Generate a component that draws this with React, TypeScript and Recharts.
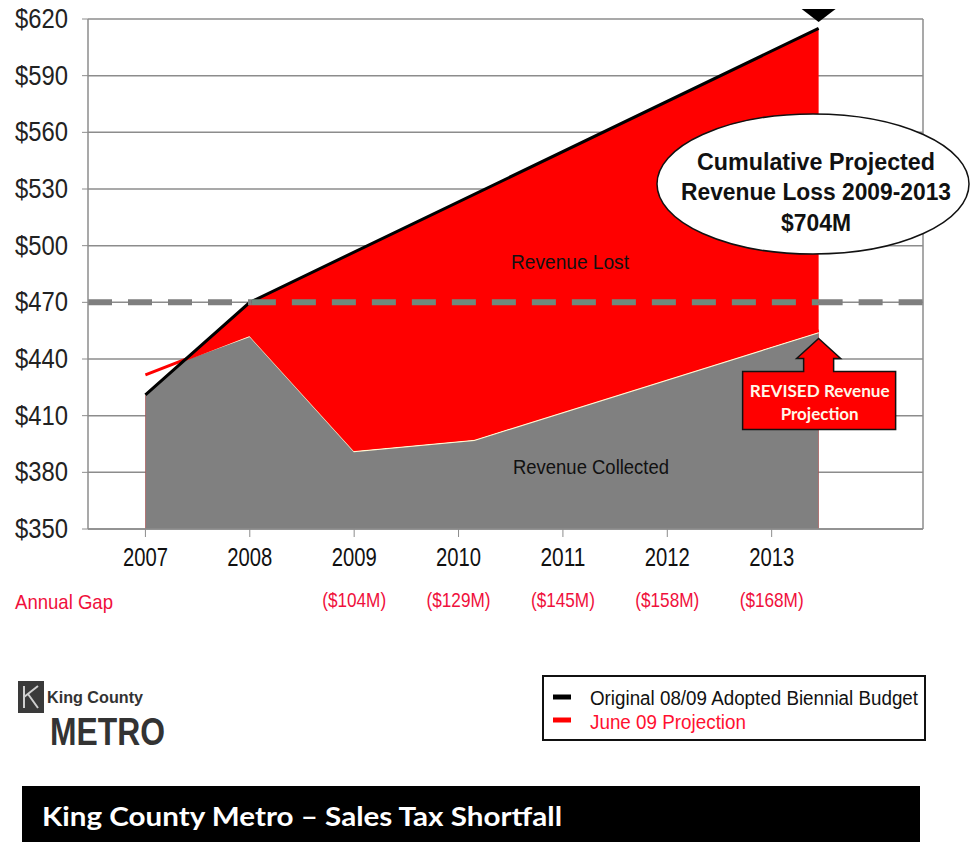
import {
  Area,
  CartesianGrid,
  ComposedChart,
  Line,
  ReferenceDot,
  ReferenceLine,
  XAxis,
  YAxis,
} from "recharts";

// categories / ticks
const years = [2007, 2008, 2009, 2010, 2011, 2012, 2013];
const annualGap = ["", "", "($104M)", "($129M)", "($145M)", "($158M)", "($168M)"];
const yTicks = [350, 380, 410, 440, 470, 500, 530, 560, 590, 620];

// series ($M)
const pointX = [2007, 2007.35, 2008, 2009, 2010.15, 2013.45];
const budget = [421, null, 470, null, null, 615];
const projection = [430.5, null, 452, 391, 397, 454];
const collected = [421, 439, 452, 391, 397, 454];

const rows = pointX.map((x, i) => ({
  x,
  budget: budget[i],
  projection: projection[i],
  collected: collected[i],
}));

const NARROW = "'Liberation Sans Narrow', 'Arial Narrow', 'Liberation Sans', Arial, sans-serif";
const GRID = "#8c8c8c";

const YearTick = (props: any) => {
  const { x, y, payload } = props;
  const i = years.indexOf(payload.value);
  return (
    <g>
      <text x={x} y={y + 25} textAnchor="middle" fontFamily={NARROW} fontSize={26} fill="#111" textLength={45} lengthAdjust="spacingAndGlyphs">
        {payload.value}
      </text>
      {annualGap[i] ? (
        <text x={x} y={y + 66} textAnchor="middle" fontFamily={NARROW} fontSize={21} fill="#f0103c" textLength={64} lengthAdjust="spacingAndGlyphs">
          {annualGap[i]}
        </text>
      ) : null}
    </g>
  );
};

const DollarTick = (props: any) => {
  const { x, y, payload } = props;
  return (
    <text x={x} y={y + 9} textAnchor="end" fontFamily={NARROW} fontSize={27} fill="#222" textLength={53} lengthAdjust="spacingAndGlyphs">
      {`$${payload.value}`}
    </text>
  );
};

const TopMarker = (props: any) => {
  const { cx, cy } = props;
  return <path d={`M${cx - 17},${cy - 10} L${cx + 17},${cy - 10} L${cx},${cy + 3} Z`} fill="#000" />;
};

const RevisedCallout = (props: any) => {
  const { cx, cy } = props;
  const d = [
    `M${cx - 76},${cy + 39}`,
    `L${cx - 15},${cy + 39}`,
    `L${cx - 15},${cy + 26}`,
    `L${cx - 22},${cy + 26}`,
    `L${cx},${cy + 6}`,
    `L${cx + 22},${cy + 26}`,
    `L${cx + 15},${cy + 26}`,
    `L${cx + 15},${cy + 39}`,
    `L${cx + 77},${cy + 39}`,
    `L${cx + 77},${cy + 97}`,
    `L${cx - 76},${cy + 97}`,
    "Z",
  ].join(" ");
  return (
    <g>
      <path d={d} fill="#ff0000" stroke="#111" strokeWidth={1.5} />
      <text x={cx + 1} y={cy + 64} textAnchor="middle" fontFamily="Lato, 'Open Sans', sans-serif" fontWeight="bold" fontSize={17} fill="#fff8e8" textLength={140} lengthAdjust="spacingAndGlyphs">
        REVISED Revenue
      </text>
      <text x={cx + 1} y={cy + 87} textAnchor="middle" fontFamily="Lato, 'Open Sans', sans-serif" fontWeight="bold" fontSize={17} fill="#fff8e8" textLength={78} lengthAdjust="spacingAndGlyphs">
        Projection
      </text>
    </g>
  );
};

export default function App() {
  return (
    <div style={{ position: "absolute", left: 0, top: 0, width: 970, height: 842, background: "#fff" }}>
      <style>{`.proj-line { transform: translateY(-2px); }`}</style>
      <ComposedChart
        width={970}
        height={842}
        data={rows}
        margin={{ top: 19, right: 47, left: 0, bottom: 283 }}
      >
        <CartesianGrid vertical={false} stroke={GRID} strokeWidth={1.5} />
        <XAxis
          dataKey="x"
          type="number"
          domain={[2006.45, 2014.45]}
          ticks={years}
          tick={<YearTick />}
          height={30}
          tickSize={8}
          tickMargin={4}
          stroke={GRID}
          axisLine={{ stroke: GRID, strokeWidth: 1.5 }}
          tickLine={{ stroke: GRID }}
        />
        <YAxis
          type="number"
          domain={[350, 620]}
          ticks={yTicks}
          width={88}
          tickSize={6}
          tickMargin={14}
          tick={<DollarTick />}
          axisLine={{ stroke: GRID, strokeWidth: 1.5 }}
          tickLine={{ stroke: GRID }}
        />
        <ReferenceLine x={2014.45} stroke={GRID} strokeWidth={1.5} />
        <Area
          dataKey="budget"
          type="linear"
          connectNulls
          fill="#ff0000"
          fillOpacity={1}
          stroke="none"
          isAnimationActive={false}
        />
        <Area
          dataKey="collected"
          type="linear"
          fill="#808080"
          fillOpacity={1}
          stroke="#fff6d2"
          strokeWidth={1.5}
          isAnimationActive={false}
        />
        <Line
          className="proj-line"
          dataKey="projection"
          type="linear"
          connectNulls
          stroke="#ff0000"
          strokeWidth={3}
          dot={false}
          isAnimationActive={false}
        />
        <Line
          dataKey="budget"
          type="linear"
          connectNulls
          stroke="#000"
          strokeWidth={3}
          dot={false}
          isAnimationActive={false}
        />
        <ReferenceLine
          segment={[{ x: 2006.45, y: 470 }, { x: 2008.02, y: 470 }]}
          stroke="#7f7f7f"
          strokeWidth={6}
          strokeDasharray="24 16"
        />
        <ReferenceLine
          segment={[{ x: 2008.02, y: 470 }, { x: 2013.45, y: 470 }]}
          stroke="#6f8a7e"
          strokeWidth={6}
          strokeDasharray="24 16"
        />
        <ReferenceLine
          segment={[{ x: 2013.45, y: 470 }, { x: 2014.45, y: 470 }]}
          stroke="#7f7f7f"
          strokeWidth={6}
          strokeDasharray="24 16"
        />
        <ReferenceDot x={2013.45} y={620} r={1} ifOverflow="visible" shape={<TopMarker />} />
        <ReferenceDot x={2013.45} y={454} r={1} ifOverflow="visible" shape={<RevisedCallout />} />
      </ComposedChart>

      <svg width={970} height={842} style={{ position: "absolute", left: 0, top: 0, pointerEvents: "none" }}>
        <text x={570} y={269} textAnchor="middle" fontFamily={NARROW} fontSize={20} fill="#111" textLength={118} lengthAdjust="spacingAndGlyphs">
          Revenue Lost
        </text>
        <text x={591} y={474} textAnchor="middle" fontFamily={NARROW} fontSize={20} fill="#111" textLength={156} lengthAdjust="spacingAndGlyphs">
          Revenue Collected
        </text>

        <ellipse cx={813} cy={184} rx={156} ry={70} fill="#fff" stroke="#111" strokeWidth={1.5} />
        <g fontFamily={NARROW} fontWeight="bold" fontSize={23} fill="#111" textAnchor="middle">
          <text x={816} y={170} textLength={238} lengthAdjust="spacingAndGlyphs">Cumulative Projected</text>
          <text x={816} y={200} textLength={270} lengthAdjust="spacingAndGlyphs">Revenue Loss 2009-2013</text>
          <text x={816} y={231} textLength={70} lengthAdjust="spacingAndGlyphs">$704M</text>
        </g>

        <text x={15} y={609} fontFamily={NARROW} fontSize={21} fill="#f0103c" textLength={98} lengthAdjust="spacingAndGlyphs">
          Annual Gap
        </text>

        {/* logo */}
        <rect x={18} y={681} width={26} height={32} fill="#3a3a3a" />
        <path d="M24,686 L24,708 M24,697 L38,686 M28,694 L38,708" stroke="#cfcfcf" strokeWidth={2} fill="none" />
        <text x={47} y={703} fontFamily="'Liberation Sans', Arial, sans-serif" fontWeight="bold" fontSize={16} fill="#333" textLength={96} lengthAdjust="spacingAndGlyphs">
          King County
        </text>
        <text x={50} y={745} fontFamily="'Liberation Sans', Arial, sans-serif" fontWeight="bold" fontSize={38} fill="#333" textLength={115} lengthAdjust="spacingAndGlyphs">
          METRO
        </text>

        {/* legend */}
        <rect x={543} y={676} width={382} height={64} fill="#fff" stroke="#111" strokeWidth={2} />
        <line x1={553} y1={697} x2={571} y2={697} stroke="#000" strokeWidth={5} />
        <text x={590} y={705} fontFamily={NARROW} fontSize={20} fill="#111" textLength={328} lengthAdjust="spacingAndGlyphs">
          Original 08/09 Adopted Biennial Budget
        </text>
        <line x1={553} y1={720} x2={571} y2={720} stroke="#ff0000" strokeWidth={5} />
        <text x={590} y={729} fontFamily={NARROW} fontSize={20} fill="#ff1030" textLength={156} lengthAdjust="spacingAndGlyphs">
          June 09 Projection
        </text>

        {/* title bar */}
        <rect x={22} y={786} width={898} height={56} fill="#000" />
        <text x={42} y={826} fontFamily="Lato, 'Open Sans', sans-serif" fontWeight="bold" fontSize={26} fill="#fff" textLength={520} lengthAdjust="spacingAndGlyphs">
          King County Metro – Sales Tax Shortfall
        </text>
      </svg>
    </div>
  );
}
